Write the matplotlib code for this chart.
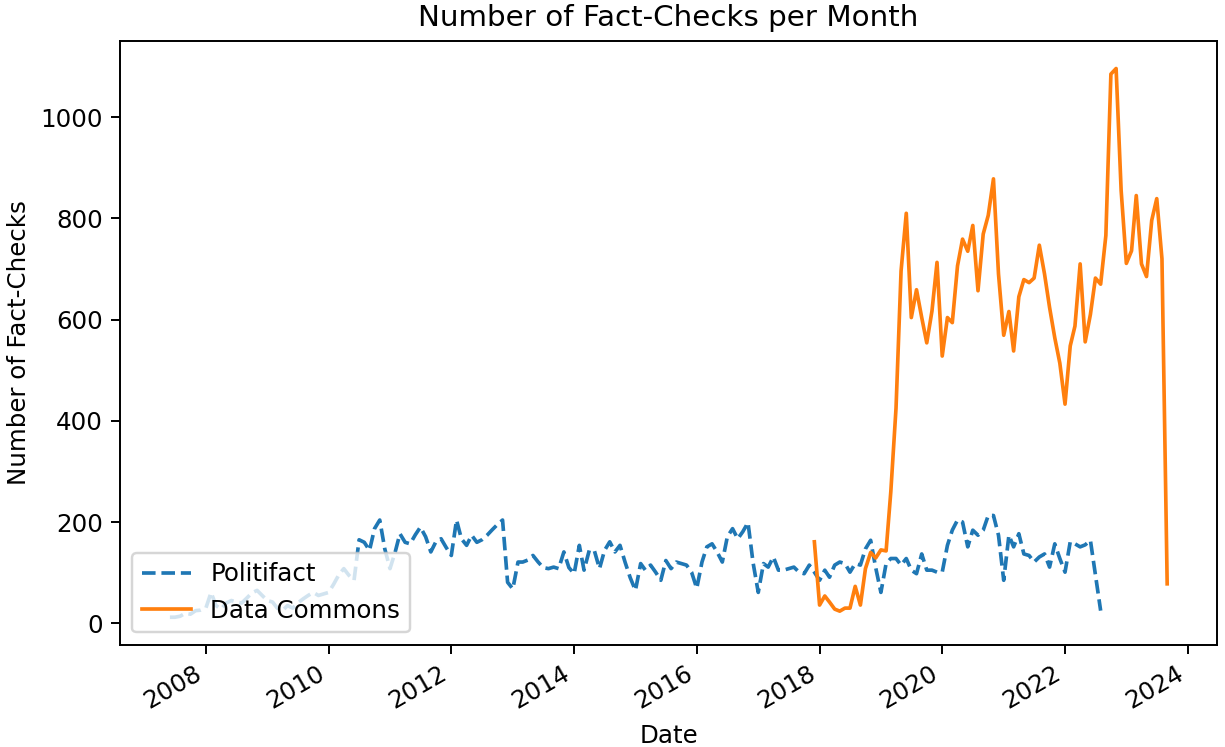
import pandas as pd
import matplotlib.pyplot as plt

# monthly counts
politifact_start = "2007-06-01"
politifact = [
    12, 12, 14, 20, 18, 25, 26, 30, 61, 35, 28, 40,
    45, 42, 40, 50, 60, 65, 55, 45, 42, 30, 25, 35,
    30, 40, 48, 55, 61, 55, 58, 61, 78, 95, 108, 95,
    85, 165, 160, 144, 187, 204, 147, 108, 141, 177, 160, 157,
    175, 190, 171, 141, 161, 167, 150, 134, 204, 167, 154, 174,
    160, 165, 174, 185, 195, 204, 81, 68, 121, 121, 125, 134,
    121, 110, 108, 111, 108, 141, 110, 98, 154, 105, 144, 144,
    108, 144, 161, 141, 154, 120, 90, 65, 118, 105, 115, 101,
    85, 124, 108, 121, 118, 115, 101, 69, 121, 151, 157, 141,
    121, 171, 187, 167, 181, 199, 120, 61, 118, 111, 131, 105,
    105, 108, 111, 101, 98, 115, 101, 85, 105, 91, 115, 121,
    118, 101, 118, 115, 147, 164, 110, 61, 118, 128, 128, 115,
    128, 105, 98, 137, 105, 105, 101, 101, 154, 184, 204, 200,
    151, 184, 174, 184, 213, 213, 174, 85, 174, 151, 177, 137,
    134, 121, 131, 137, 111, 157, 128, 101, 161, 157, 151, 155,
    164, 95, 25,
]

datacommons_start = "2017-12-01"
datacommons = [
    161, 36, 54, 42, 28, 24, 30, 30, 73, 36, 108, 140,
    129, 145, 143, 260, 425, 696, 810, 604, 659, 604, 554, 617,
    713, 528, 604, 594, 706, 759, 735, 786, 657, 769, 806, 878,
    690, 569, 616, 538, 645, 679, 673, 682, 747, 690, 624, 564,
    514, 433, 548, 587, 710, 556, 610, 682, 670, 766, 1085, 1096,
    855, 711, 736, 845, 710, 685, 796, 839, 720, 78,
]

pf_dates = pd.date_range(politifact_start, periods=len(politifact), freq="MS")
dc_dates = pd.date_range(datacommons_start, periods=len(datacommons), freq="MS")

dpi = 176
fig, ax = plt.subplots(figsize=(1225 / dpi, 747 / dpi), dpi=dpi)
fig.subplots_adjust(left=0.098, right=0.9935, top=0.945, bottom=0.137)

ax.plot(pf_dates, politifact, linestyle="--", label="Politifact")
ax.plot(dc_dates, datacommons, label="Data Commons")

ax.set_title("Number of Fact-Checks per Month")
ax.set_xlabel("Date")
ax.set_ylabel("Number of Fact-Checks")
ax.legend(loc="lower left")

for tick in ax.get_xticklabels():
    tick.set_rotation(30)
    tick.set_horizontalalignment("right")

plt.savefig("out.png", dpi=dpi)
